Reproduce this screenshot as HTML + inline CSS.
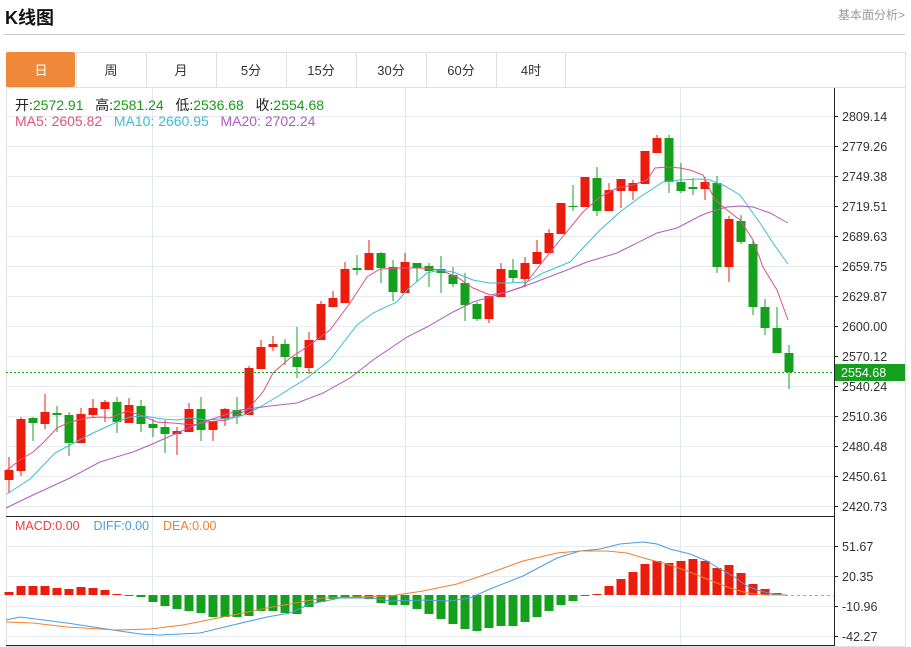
<!DOCTYPE html>
<html><head><meta charset="utf-8"><style>
html,body{margin:0;padding:0;background:#fff;width:911px;height:647px;overflow:hidden;font-family:"Liberation Sans","Noto Sans CJK SC",sans-serif}
#t{position:absolute;left:5px;top:4px;font-size:18px;font-weight:bold;color:#111}
#r{position:absolute;right:6px;top:6px;font-size:12px;color:#999}
</style></head><body>
<div id="t">K线图</div><div id="r">基本面分析&gt;</div>
<svg id="s" width="911" height="647" style="position:absolute;left:0;top:0"></svg>
<script>
var s='';
function L(x1,y1,x2,y2,c,w,d){s+='<line x1="'+x1+'" y1="'+y1+'" x2="'+x2+'" y2="'+y2+'" stroke="'+c+'" stroke-width="'+(w||1)+'"'+(d?' stroke-dasharray="'+d+'"':'')+'/>';}
function T(x,y,t,c,sz,a){s+='<text x="'+x+'" y="'+y+'" fill="'+c+'" font-size="'+(sz||12)+'"'+(a?' text-anchor="'+a+'"':'')+'>'+t+'</text>';}
L(4,34.5,905,34.5,'#ccc');
s+='<rect x="6.5" y="52.5" width="899" height="594" fill="none" stroke="#e0e0e0"/>';
L(6,87.5,905,87.5,'#e0e0e0');
s+='<rect x="6" y="52" width="69" height="35" fill="#f0883a" rx="2"/>';
var tabs=['日','周','月','5分','15分','30分','60分','4时'];
for(var i=0;i<8;i++){var x=6+i*70;if(i>0)L(x+0.5,52,x+0.5,87,'#e0e0e0');T(x+35,75,tabs[i],i==0?'#fff':'#333',13,'middle');}
L(565.5,52,565.5,87,'#e0e0e0');
for(var g=0;g<14;g++){L(6,116.5+g*30,834,116.5+g*30,'#e8ecf0');}
[546.5,576.5,606.5,636.5].forEach(function(y){L(6,y,834,y,'#e8ecf0');});
[152.5,405.5,680.5].forEach(function(x){L(x,88,x,646,'#e3e8ee');});
L(834.5,88,834.5,646,'#222');
L(6,516.5,834,516.5,'#222');L(6,645.5,834,645.5,'#222');
var labs=['2809.14','2779.26','2749.38','2719.51','2689.63','2659.75','2629.87','2600.00','2570.12','2540.24','2510.36','2480.48','2450.61','2420.73'];
for(var g=0;g<14;g++){L(834,116.5+g*30,838,116.5+g*30,'#222');T(842,121+g*30,labs[g],'#333',12.5);}
var ml=['51.67','20.35','-10.96','-42.27'];
for(var g=0;g<4;g++){L(834,546.5+g*30,838,546.5+g*30,'#222');T(842,551+g*30,ml[g],'#333',12.5);}
var R='#ec1c0c',G='#14a01c';
var C=[[470,480,457,493,R],[419,471,417,476,R],[418,423,417,441,G],[412,424,394,429,R],[413,415,406,432,G],[415,443,412,456,G],[414,443,408,443,R],[408,415,399,417,R],[402,409,400,422,R],[402,422,397,433,G],[405,423,398,423,R],[406,424,400,432,G],[424,428,419,437,G],[427,434,420,453,G],[431,434,427,455,R],[409,432,403,432,R],[409,430,397,441,G],[421,430,421,441,R],[409,419,408,426,R],[410,416,397,424,G],[368,415,366,415,R],[347,369,340,369,R],[344,347,336,351,R],[344,357,339,365,G],[357,367,327,378,G],[340,368,332,374,R],[304,340,301,340,R],[298,307,291,307,R],[269,303,262,303,R],[268,270,255,275,G],[253,270,240,270,R],[253,268,252,283,G],[267,292,260,301,G],[262,293,253,293,R],[263,268,263,282,G],[266,271,263,287,G],[269,273,256,293,G],[275,284,267,287,G],[283,305,273,321,G],[304,319,302,321,G],[296,319,296,323,R],[269,297,263,297,R],[270,278,259,282,G],[263,279,257,287,R],[252,264,240,264,R],[233,253,229,253,R],[203,234,203,234,R],[206,207,185,211,G],[177,207,177,207,R],[178,211,167,216,G],[190,211,183,211,R],[179,191,179,208,R],[183,191,180,200,R],[151,184,151,184,R],[138,153,135,153,R],[138,182,135,193,G],[182,191,163,193,G],[187,189,178,195,G],[182,189,177,200,R],[183,267,176,273,G],[219,267,216,282,R],[221,242,215,244,G],[244,307,240,315,G],[307,328,299,335,G],[328,353,307,353,G],[353,372,345,389,G]];
C.forEach(function(c,i){var x=9+12*i;L(x,c[2],x,c[3],c[4]);s+='<rect x="'+(x-4.5)+'" y="'+c[0]+'" width="9" height="'+Math.max(1,c[1]-c[0])+'" fill="'+c[4]+'"/>';});
function P(pts,c){s+='<polyline fill="none" stroke="'+c+'" stroke-width="1" points="'+pts+'"/>';}
P('7,470 20,460 33,452 43,443 57,428 70,422 87,418 100,417 110,418 127,411 140,415 157,422 173,423 193,425 207,422 227,420 247,410 263,392 273,373 290,358 307,347 330,330 350,303 367,277 380,269 400,268 420,268 440,270 457,277 473,288 490,295 507,292 523,287 540,265 560,240 583,212 600,197 617,188 633,185 647,180 655,168 667,167 680,168 690,170 703,175 715,200 727,210 740,220 753,240 763,267 777,290 788,320','#e0507f');
P('7,494 30,479 55,453 70,445 93,433 117,422 130,417 143,416 163,419 177,420 190,418 207,420 233,418 247,414 260,407 280,395 307,378 330,360 357,325 373,313 397,302 407,290 427,273 440,270 453,272 473,280 490,283 507,283 527,282 543,273 570,262 583,248 600,230 620,212 640,197 663,182 680,180 700,179 710,180 725,186 740,195 760,223 773,243 788,264','#3dbcd0');
P('6,508 33,495 70,478 100,462 133,452 150,445 200,423 240,410 270,406 297,403 323,393 350,378 373,360 407,337 427,327 453,312 473,302 507,292 533,283 567,270 587,262 617,253 633,245 657,233 677,228 700,216 707,213 727,207 740,206 753,207 770,213 788,223','#b05cc0');
L(6,372.5,834,372.5,'#1a9a1a',1,'2,2');
s+='<rect x="835" y="364" width="70" height="17" fill="#14a01c"/>';T(841,377,'2554.68','#fff',12.5);
var M={9:592,21:586,33:586,45:586,57:588,69:589,81:587,93:588,105:590,117:594,129:595,141:597,153:602,165:606,177:609,189:611,201:613,213:617,225:617,237:617,249:616,261:611,273:611,285:613,297:614,309:607,321:602,333:599,345:598,357:598,369:599,381:603,393:605,405:605,417:609,429:614,441:619,453:624,465:629,477:631,489:628,501:626,513:626,525:622,537:617,549:611,561:605,573:601,585:596,597:594,609:586,621:579,633:572,645:564,657:561,669:563,681:561,693:559,705:561,717:568,729:565,741:573,753:584,765:589,777:593};
for(var k in M){var x=+k,y=M[k];if(y<595)s+='<rect x="'+(x-4.5)+'" y="'+y+'" width="9" height="'+(595-y)+'" fill="'+R+'"/>';else s+='<rect x="'+(x-4.5)+'" y="595" width="9" height="'+Math.max(1,y-595)+'" fill="'+G+'"/>';}
L(785,595.5,834,595.5,'#7fb0e0',1,'3,3');
P('6,620 20,617 67,623 100,628 140,634 160,635 200,633 233,625 267,617 290,613 310,604 340,598 373,598 390,601 423,600 450,601 470,598 490,589 523,576 557,558 580,551 600,549 620,544 643,542 657,544 670,549 690,554 707,561 720,569 733,576 747,586 760,591 773,594 787,595','#4a9de0');
P('6,622 33,623 67,627 117,630 150,629 183,625 233,615 267,608 290,604 323,598 390,596 423,591 457,584 490,573 523,561 557,553 580,551 607,551 627,553 647,559 667,564 687,571 707,579 727,587 747,593 767,595 787,595','#f08030');
document.getElementById('s').innerHTML=s;
</script>
<div style="position:absolute;left:15px;top:95px;font-size:14px;white-space:nowrap;color:#222">开:<span style="color:#1a9a1a">2572.91</span>&nbsp;&nbsp; 高:<span style="color:#1a9a1a">2581.24</span>&nbsp;&nbsp; 低:<span style="color:#1a9a1a">2536.68</span>&nbsp;&nbsp; 收:<span style="color:#1a9a1a">2554.68</span></div>
<div style="position:absolute;left:15px;top:113px;font-size:14px;white-space:nowrap"><span style="color:#e0507f">MA5: 2605.82</span>&nbsp;&nbsp; <span style="color:#3dbcd0">MA10: 2660.95</span>&nbsp;&nbsp; <span style="color:#b05cc0">MA20: 2702.24</span></div>
<div style="position:absolute;left:15px;top:519px;font-size:12.5px;white-space:nowrap"><span style="color:#e64040">MACD:0.00</span>&nbsp;&nbsp;&nbsp; <span style="color:#4a9de0">DIFF:0.00</span>&nbsp;&nbsp;&nbsp; <span style="color:#f08030">DEA:0.00</span></div>
</body></html>
